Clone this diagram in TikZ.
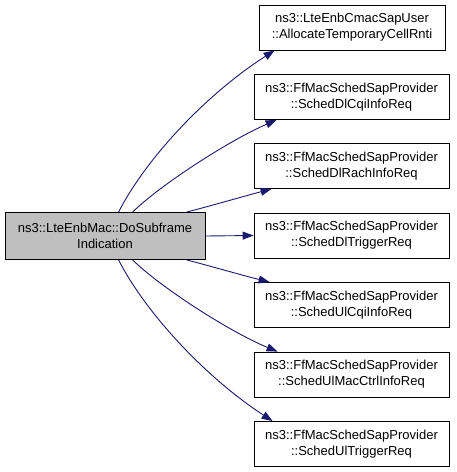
\documentclass[tikz,border=0pt]{standalone}
\usepackage{fontspec}
\setmainfont{Liberation Sans}
\usetikzlibrary{arrows.meta}
\definecolor{edgeblue}{RGB}{25,25,112}
\definecolor{srcgray}{RGB}{191,191,191}
\tikzset{
  fnbox/.style={draw=black, line width=0.8pt, fill=white, align=center, inner sep=0pt,
    minimum height=45pt, font=\fontsize{13}{16}\selectfont},
  srcbox/.style={fnbox, fill=srcgray, minimum height=47pt},
  callarrow/.style={draw=edgeblue, line width=0.9pt, -{Triangle[length=11pt,width=8pt]}}
}
\begin{document}
\begin{tikzpicture}[x=1pt,y=-1pt]
\useasboundingbox (0,0) rectangle (456,472);
\node[srcbox, minimum width=200pt] (src) at (105,236) {ns3::LteEnbMac::DoSubframe\\Indication};
\node[fnbox, minimum width=186pt] (b1) at (352,27.5) {ns3::LteEnbCmacSapUser\\::AllocateTemporaryCellRnti};
\node[fnbox, minimum width=195pt] (b2) at (351.5,97) {ns3::FfMacSchedSapProvider\\::SchedDlCqiInfoReq};
\node[fnbox, minimum width=195pt] (b3) at (351.5,166) {ns3::FfMacSchedSapProvider\\::SchedDlRachInfoReq};
\node[fnbox, minimum width=195pt] (b4) at (351.5,235.5) {ns3::FfMacSchedSapProvider\\::SchedDlTriggerReq};
\node[fnbox, minimum width=195pt] (b5) at (351.5,305) {ns3::FfMacSchedSapProvider\\::SchedUlCqiInfoReq};
\node[fnbox, minimum width=195pt] (b6) at (351.5,374.5) {ns3::FfMacSchedSapProvider\\::SchedUlMacCtrlInfoReq};
\node[fnbox, minimum width=195pt] (b7) at (351.5,444) {ns3::FfMacSchedSapProvider\\::SchedUlTriggerReq};

\draw[callarrow] ([xshift=114pt]src.north west) .. controls (145,160) and (205,95) .. ([xshift=16pt]b1.south west);
\draw[callarrow] ([xshift=128pt]src.north west) .. controls (160,185) and (230,140) .. ([xshift=23pt]b2.south west);
\draw[callarrow] ([xshift=182pt]src.north west) .. controls (210,206) and (245,196) .. ([xshift=18pt]b3.south west);
\draw[callarrow] (src.east) -- (b4.west);
\draw[callarrow] ([xshift=182pt]src.south west) .. controls (210,266) and (245,276) .. ([xshift=16pt]b5.north west);
\draw[callarrow] ([xshift=128pt]src.south west) .. controls (160,287) and (230,332) .. ([xshift=24pt]b6.north west);
\draw[callarrow] ([xshift=114pt]src.south west) .. controls (145,312) and (205,377) .. ([xshift=19pt]b7.north west);
\end{tikzpicture}
\end{document}
